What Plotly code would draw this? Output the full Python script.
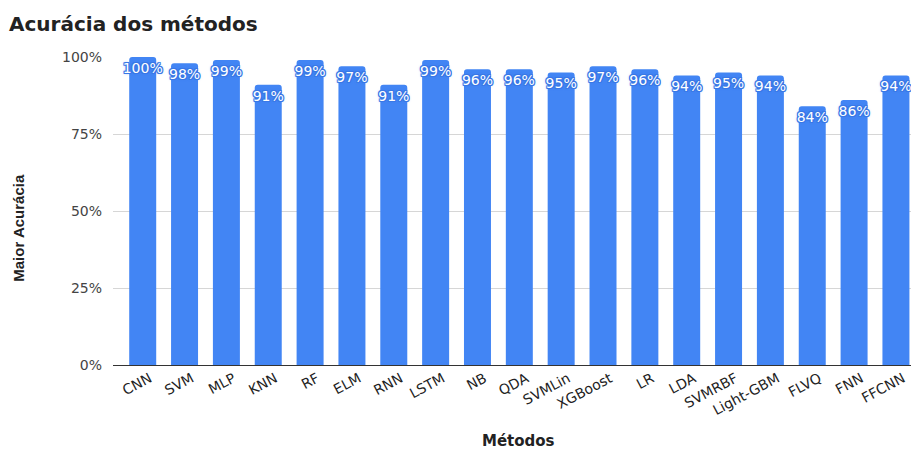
import plotly.graph_objects as go

metodos = ["CNN", "SVM", "MLP", "KNN", "RF", "ELM", "RNN", "LSTM", "NB", "QDA",
           "SVMLin", "XGBoost", "LR", "LDA", "SVMRBF", "Light-GBM", "FLVQ", "FNN", "FFCNN"]
acuracia = [100, 98, 99, 91, 99, 97, 91, 99, 96, 96, 95, 97, 96, 94, 95, 94, 84, 86, 94]
y_ticks = [0, 25, 50, 75, 100]
y_tick_labels = ["0%", "25%", "50%", "75%", "100%"]

FONT = "DejaVu Sans, Liberation Sans, Arial, sans-serif"
BLUE = "#4285f4"
HALO = "#3a78e6"

fig = go.Figure()
fig.add_trace(go.Bar(
    x=list(range(len(metodos))),
    y=acuracia,
    width=0.645,
    marker=dict(color=BLUE, line=dict(width=0)),
    text=[f"{v}%" for v in acuracia],
    textposition="inside",
    insidetextanchor="end",
    textangle=0,
    constraintext="none",
    cliponaxis=False,
    textfont=dict(family=FONT, size=14, color="white",
                  shadow=(f"0 0 3px {HALO}, 1px 0 0 {HALO}, -1px 0 0 {HALO}, 0 1px 0 {HALO}, 0 -1px 0 {HALO}, "
                          f"1px 1px 0 {HALO}, -1px -1px 0 {HALO}, 1px -1px 0 {HALO}, -1px 1px 0 {HALO}")),
    hoverinfo="skip",
))

fig.update_layout(
    width=911, height=452,
    margin=dict(l=113, r=0, t=57, b=86.5),
    paper_bgcolor="white", plot_bgcolor="white",
    barcornerradius=3,
    showlegend=False,
    font=dict(family=FONT),
    title=dict(text="Acurácia dos métodos", x=9/911, xref="container", xanchor="left",
               y=1 - 24/452, yanchor="middle", yref="container",
               font=dict(family=FONT, size=20, color="#222222", weight="bold")),
    xaxis=dict(
        tickmode="array",
        tickvals=list(range(len(metodos))),
        ticktext=metodos,
        tickangle=-28,
        range=[-0.71, 18.36],
        showgrid=False, zeroline=False, showline=False,
        ticks="",
        ticklabelshift=7,
        ticklabelstandoff=2,
        tickfont=dict(family=FONT, size=14, color="#222222"),
        fixedrange=True,
    ),
    yaxis=dict(
        range=[0, 100],
        tickmode="array",
        tickvals=y_ticks,
        ticktext=y_tick_labels,
        showgrid=True, gridcolor="#d6d6d6", gridwidth=1,
        zeroline=True, zerolinecolor="#333333", zerolinewidth=1,
        showline=False, ticks="",
        ticklabelstandoff=10,
        tickfont=dict(family=FONT, size=14, color="#444444"),
        fixedrange=True,
    ),
    annotations=[
        dict(text="<b>Métodos</b>", x=518, y=442, xref="paper", yref="paper",
             showarrow=False, font=dict(family=FONT, size=15, color="#222222"),
             xanchor="center", yanchor="middle", borderpad=0),
        dict(text="<b>Maior Acurácia</b>", x=19, y=228, xref="paper", yref="paper",
             showarrow=False, textangle=-90,
             font=dict(family="Liberation Sans, Arial, sans-serif", size=15, color="#222222"),
             xanchor="center", yanchor="middle"),
    ],
)

# convert pixel positions of annotations to paper coordinates
pw = 911 - 113
ph = 452 - 57 - 86.5
for a in fig.layout.annotations:
    a.x = (a.x - 113) / pw
    a.y = (452 - 86.5 - a.y) / ph

fig.write_html("out.html")
